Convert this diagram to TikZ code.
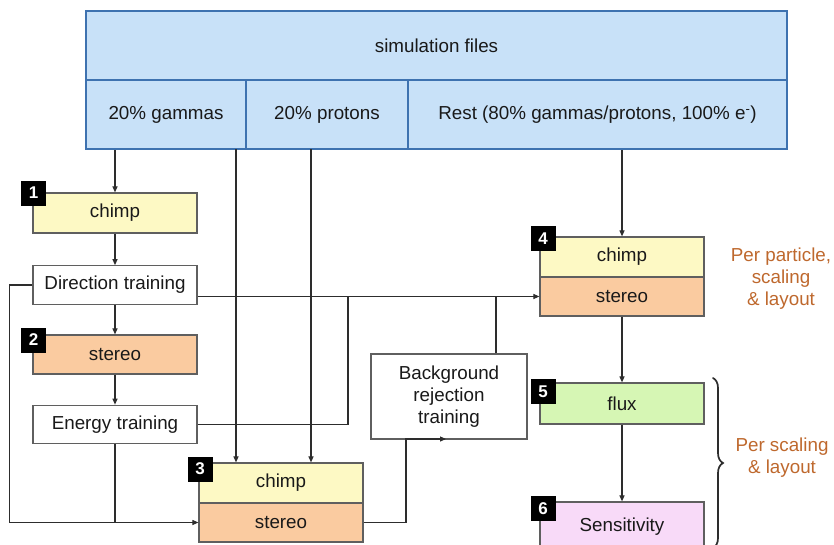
\documentclass[tikz,border=0pt]{standalone}
\usepackage{fontspec}
\setmainfont{Liberation Sans}
\usetikzlibrary{arrows.meta,decorations.pathreplacing}

\definecolor{simfill}{RGB}{200,225,248}
\definecolor{simline}{RGB}{62,114,176}
\definecolor{chimpfill}{RGB}{253,249,196}
\definecolor{stereofill}{RGB}{250,203,160}
\definecolor{fluxfill}{RGB}{214,246,180}
\definecolor{sensfill}{RGB}{248,218,248}
\definecolor{boxline}{RGB}{95,95,95}
\definecolor{wire}{RGB}{45,45,45}
\definecolor{txt}{RGB}{25,25,25}
\definecolor{notecol}{RGB}{190,104,45}

\newcommand{\labelfont}{\fontsize{18.8}{22}\selectfont}

\begin{document}
\begin{tikzpicture}[x=1pt,y=-1pt,
  topcell/.style={draw=simline, line width=2pt, fill=simfill, inner sep=0pt,
    font=\labelfont, text=txt},
  stage/.style={draw=boxline, line width=1.2pt, inner sep=0pt,
    minimum width=164pt, font=\labelfont, text=txt},
  chimpbox/.style={stage, fill=chimpfill, minimum height=40pt},
  stereobox/.style={stage, fill=stereofill, minimum height=39pt},
  trainbox/.style={stage, fill=white, minimum height=38.5pt},
  badge/.style={fill=black, text=white, inner sep=0pt, minimum size=25pt,
    font=\bfseries\fontsize{17}{17}\selectfont},
  note/.style={text=notecol, align=center, font=\labelfont},
  wireline/.style={draw=wire, line width=1.1pt},
  arr/.style={wireline, -{Triangle[length=6pt,width=5pt]}}
]
\useasboundingbox (0,0) rectangle (834,544);

% simulation file sets
\node[topcell, minimum width=701pt, minimum height=70pt] (sim) at (436.5,46) {simulation files};
\node[topcell, minimum width=160pt, minimum height=69pt] (gam) at (166,114.5) {20\% gammas};
\node[topcell, minimum width=162pt, minimum height=69pt] (pro) at (327,114.5) {20\% protons};
\node[topcell, minimum width=379pt, minimum height=69pt] (rest) at (597.5,114.5) {Rest (80\% gammas/protons, 100\% e\textsuperscript{-})};

% training chain
\node[chimpbox] (c1) at (115,213) {chimp};
\node[trainbox] (dir) at (115,285) {Direction training};
\node[stereobox] (s2) at (115,354.5) {stereo};
\node[trainbox] (en) at (115,424.5) {Energy training};

% stage 3
\node[chimpbox] (b3c) at (281,483) {chimp};
\node[stereobox] (b3s) at (281,522.5) {stereo};

% background rejection
\node[stage, fill=white, minimum width=156pt, minimum height=85pt, align=center] (bg) at (449,396.5)
  {Background\\rejection\\training};

% stage 4
\node[chimpbox] (b4c) at (622,257) {chimp};
\node[stereobox] (b4s) at (622,296.5) {stereo};

% stages 5 and 6
\node[stage, fill=fluxfill, minimum height=41pt] (flux) at (622,403.5) {flux};
\node[stage, fill=sensfill, minimum height=46pt, text depth=0pt] (sens) at (622,525) {Sensitivity};

% stage numbers
\node[badge] (n1) at (33.5,193) {1};
\node[badge] (n2) at (33.5,340) {2};
\node[badge] (n3) at (200,469) {3};
\node[badge] (n4) at (543,238.5) {4};
\node[badge] (n5) at (543,391.5) {5};
\node[badge] (n6) at (543,508.5) {6};

% taps and junctions
\coordinate (tapG) at (236,149);
\coordinate (tapP) at (311,149);
\coordinate (jE) at (348,296.5);
\coordinate (jB) at (496,296.5);
\coordinate (bgA) at (406,439);
\coordinate (bgB) at (446,439);

% connectors
\draw[arr] (c1.north |- gam.south) -- (c1.north);
\draw[arr] (c1.south) -- (dir.north);
\draw[arr] (dir.south) -- (s2.north);
\draw[arr] (s2.south) -- (en.north);
\draw[arr] (dir.west) -- ++(-23,0) |- (b3s.west);
\draw[wireline] (en.south) -- (en.south |- b3s.west);
\draw[arr] (tapG) -- (tapG |- b3c.north);
\draw[arr] (tapP) -- (tapP |- b3c.north);
\draw[arr] (dir.east |- b4s.west) -- (b4s.west);
\draw[wireline] (en.east) -| (jE);
\draw[wireline] (jB |- bg.north) -- (jB);
\draw[arr] (b3s.east) -| (bgA) -- (bgB);
\draw[arr] (b4c.north |- rest.south) -- (b4c.north);
\draw[arr] (b4s.south) -- (flux.north);
\draw[arr] (flux.south) -- (sens.north);

% grouping notes
\node[note] (pp) at (781,279) {Per particle,\\scaling\\\& layout};
\coordinate (brTop) at (713,378);
\coordinate (brBot) at (713,548);
\draw[draw=wire, line width=1.7pt, line cap=round, decorate, decoration={brace, amplitude=10pt}]
  (brTop) -- (brBot);
\node[note] (ps) at (782,458) {Per scaling\\\& layout};
\end{tikzpicture}
\end{document}
